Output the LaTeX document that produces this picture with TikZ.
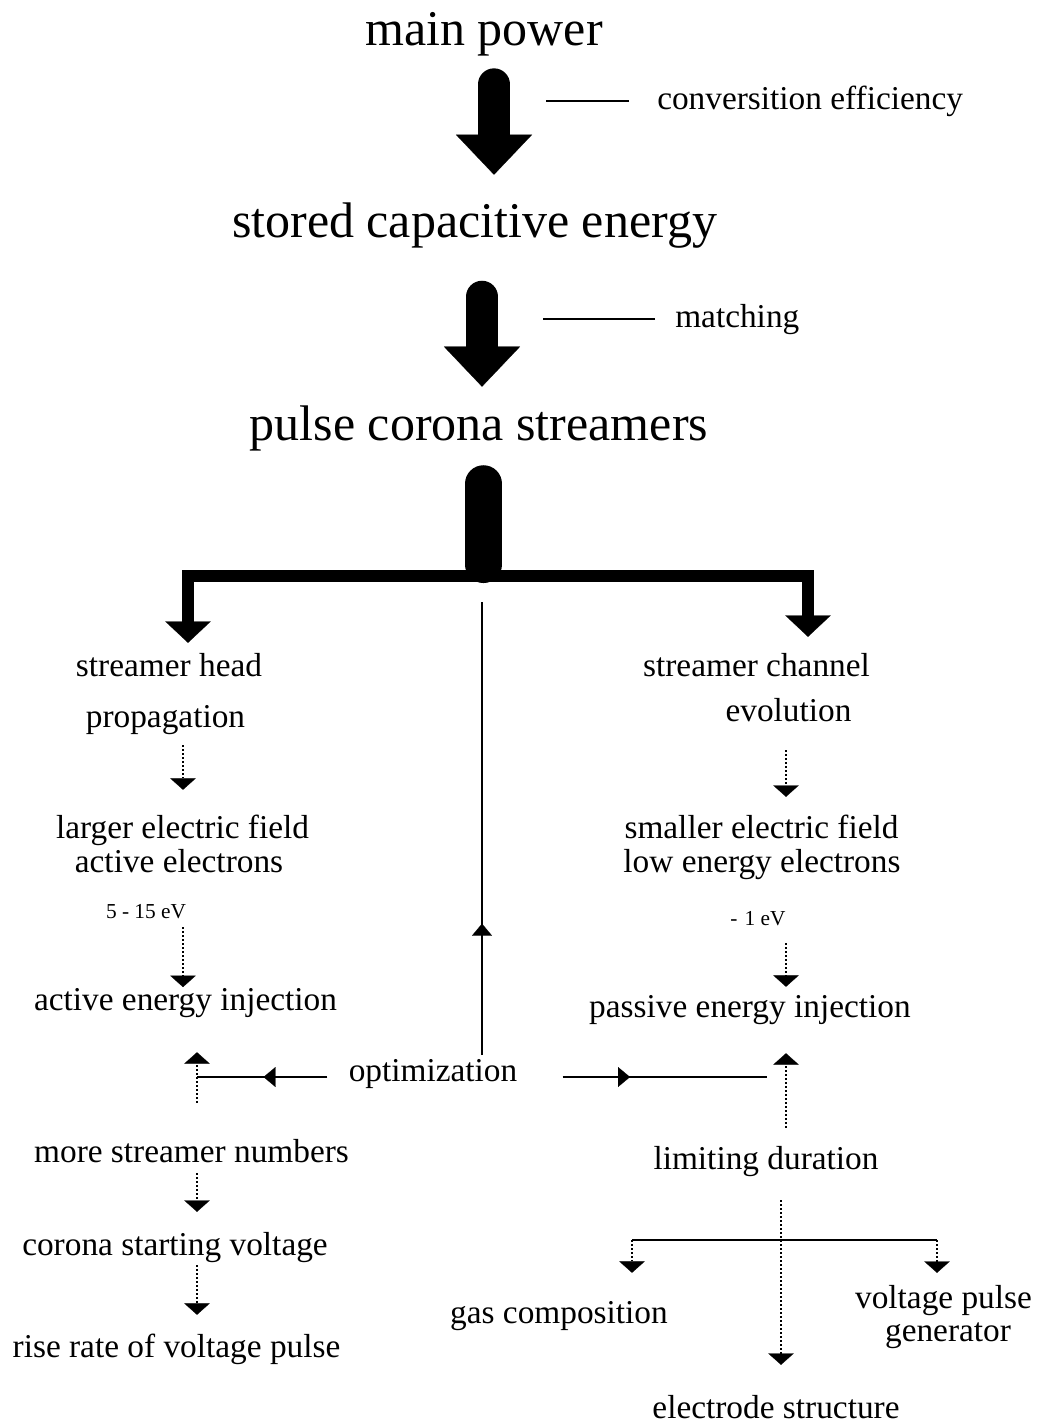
\documentclass[tikz,border=0pt]{standalone}
\usepackage{fontspec}
\setmainfont{Liberation Serif}
\usepackage{tikz}
\usetikzlibrary{arrows.meta,decorations.markings,calc}

\begin{document}
\begin{tikzpicture}[x=0.75pt,y=0.75pt,yscale=-1,xscale=1,
  big/.style={font=\fontsize{37.5}{40}\selectfont,anchor=base,inner sep=0pt,text height=25.6pt,text depth=8.1pt},
  txt/.style={font=\fontsize{25}{30}\selectfont,anchor=base,inner sep=0pt,text height=17pt,text depth=5pt},
  small/.style={font=\fontsize{16}{18}\selectfont,anchor=base,inner sep=0pt,text height=11pt,text depth=0pt},
  bigarr/.style={line width=24pt,line cap=round,-{Triangle[width=57pt,length=30pt,line width=0.1pt]}},
  forkarr/.style={line width=8.5pt,-{Triangle[width=34pt,length=16pt,line width=0.1pt]}},
  dotarr/.style={line width=1.1pt,dash pattern=on 1.5pt off 1.5pt,-{Triangle[width=19pt,length=8.5pt,line width=0.1pt]}},
  thinline/.style={line width=1.5pt},
  midarr/.style={postaction={decorate},decoration={markings,mark=at position #1 with {\arrow{Triangle[width=15pt,length=9pt,line width=0.1pt]}}}}
]
\useasboundingbox (0,0) rectangle (1039,1424);

% columns and rows
\coordinate (a1) at (494,0);
\coordinate (a2) at (482,0);
\coordinate (fork) at (483.5,576);
\coordinate (xL) at (188,0);
\coordinate (xR) at (808,0);
\coordinate (xA) at (183,0);
\coordinate (xB) at (197,0);
\coordinate (xC) at (482,0);
\coordinate (xD) at (786,0);
\coordinate (xE) at (781,0);
\coordinate (xG) at (632,0);
\coordinate (xV) at (937,0);
\coordinate (yO) at (0,1077);
\coordinate (yS) at (0,1240);

% Text Node
\node[big] (main) at (484,45) {main power};
\node[txt,anchor=base west] (conv) at (657,109) {conversition efficiency};
\node[big] (stored) at (474.5,237) {stored capacitive energy};
\node[txt,anchor=base west] (match) at (675,327) {matching};
\node[big] (pulse) at (479,440) {pulse corona streamers};

% Text Node
\node[txt] (shead) at (169,676) {streamer head};
\node[txt] (prop) at (165.5,727) {propagation};
\node[txt] (larger) at (182.5,838) {larger electric field};
\node[txt] (actel) at (179,872) {active electrons};
\node[small] (ev1) at (146,918) {5 - 15 eV};
\node[txt] (actinj) at (185.5,1010) {active energy injection};
\node[txt] (opt) at (433,1081) {optimization};
\node[txt] (more) at (191.5,1162) {more streamer numbers};
\node[txt] (corona) at (175,1255) {corona starting voltage};
\node[txt] (rise) at (176.5,1357) {rise rate of voltage pulse};

% Text Node
\node[txt] (chan1) at (756.5,676) {streamer channel};
\node[txt] (chan2) at (788.5,721) {evolution};
\node[txt] (smaller) at (761.5,838) {smaller electric field};
\node[txt] (lowel) at (762,872) {low energy electrons};
\node[small] (ev2) at (758,925) {-\,\,1 eV};
\node[txt] (passive) at (750,1017) {passive energy injection};
\node[txt] (limit) at (766,1169) {limiting duration};
\node[txt] (gas) at (559,1323) {gas composition};
\node[txt] (vp1) at (943.5,1308) {voltage pulse};
\node[txt] (vp2) at (948,1341) {generator};
\node[txt] (elec) at (776,1418) {electrode structure};

%Straight Lines
\draw[bigarr,shorten <=21.2pt,shorten >=20.9pt] (a1 |- main.south) -- (a1 |- stored.north);
\draw[bigarr,shorten <=36.5pt,shorten >=14.2pt] (a2 |- stored.south) -- (a2 |- pulse.north);
\draw[thinline] ($(conv.west)+(-28,0)$) -- ++(-83,0);
\draw[thinline] ($(match.west)+(-20,0)$) -- ++(-112,0);

%Straight Lines
\draw[line width=27.75pt,line cap=round,shorten <=24.5pt,shorten >=8.6pt] (fork |- pulse.south) -- (fork);
\draw[forkarr,shorten >=7.7pt] (fork) -| (xL |- shead.north);
\draw[forkarr,shorten >=12.2pt] (fork) -| (xR |- chan1.north);

%Straight Lines
\draw[dotarr,shorten <=8.5pt,shorten >=19pt] (xA |- prop.south) -- (xA |- larger.north);
\draw[dotarr,shorten <=6.75pt] (xA |- ev1.south) -- (xA |- actinj.north);
\draw[dotarr,shorten <=27.2pt,shorten >=26.5pt] (xB |- more.north) -- (xB |- actinj.south);
\draw[dotarr,shorten <=3.2pt,shorten >=15.2pt] (xB |- more.south) -- (xB |- corona.north);
\draw[dotarr,shorten <=2.5pt,shorten >=14.5pt] (xB |- corona.south) -- (xB |- rise.north);

%Straight Lines
\draw[line width=1.3pt,midarr=0.29] ($(xC |- opt.north)+(0,-3)$) -- ($(xC |- fork)+(0,26)$);
\draw[line width=1.8pt,midarr=0.49] ($(opt.west |- yO)+(-21,0)$) -- (xB |- yO);
\draw[line width=1.8pt,midarr=0.33] ($(opt.east |- yO)+(45,0)$) -- ($(xD |- yO)+(-19,0)$);

%Straight Lines
\draw[dotarr,shorten <=16.7pt,shorten >=13.7pt] (xD |- chan2.south) -- (xD |- smaller.north);
\draw[dotarr,shorten <=13.5pt,shorten >=5.5pt] (xD |- ev2.south) -- (xD |- passive.north);
\draw[dotarr,shorten <=13.7pt,shorten >=22pt] (xD |- limit.north) -- (xD |- passive.south);

%Straight Lines
\draw[dotarr,shorten <=18.2pt,shorten >=22.7pt] (xE |- limit.south) -- (xE |- elec.north);
\draw[thinline] (xG |- yS) -- (xV |- yS);
\draw[dotarr,shorten >=20.5pt] (xG |- yS) -- (xG |- gas.north);
\draw[dotarr,shorten >=9.2pt] (xV |- yS) -- (xV |- vp1.north);

\end{tikzpicture}
\end{document}
